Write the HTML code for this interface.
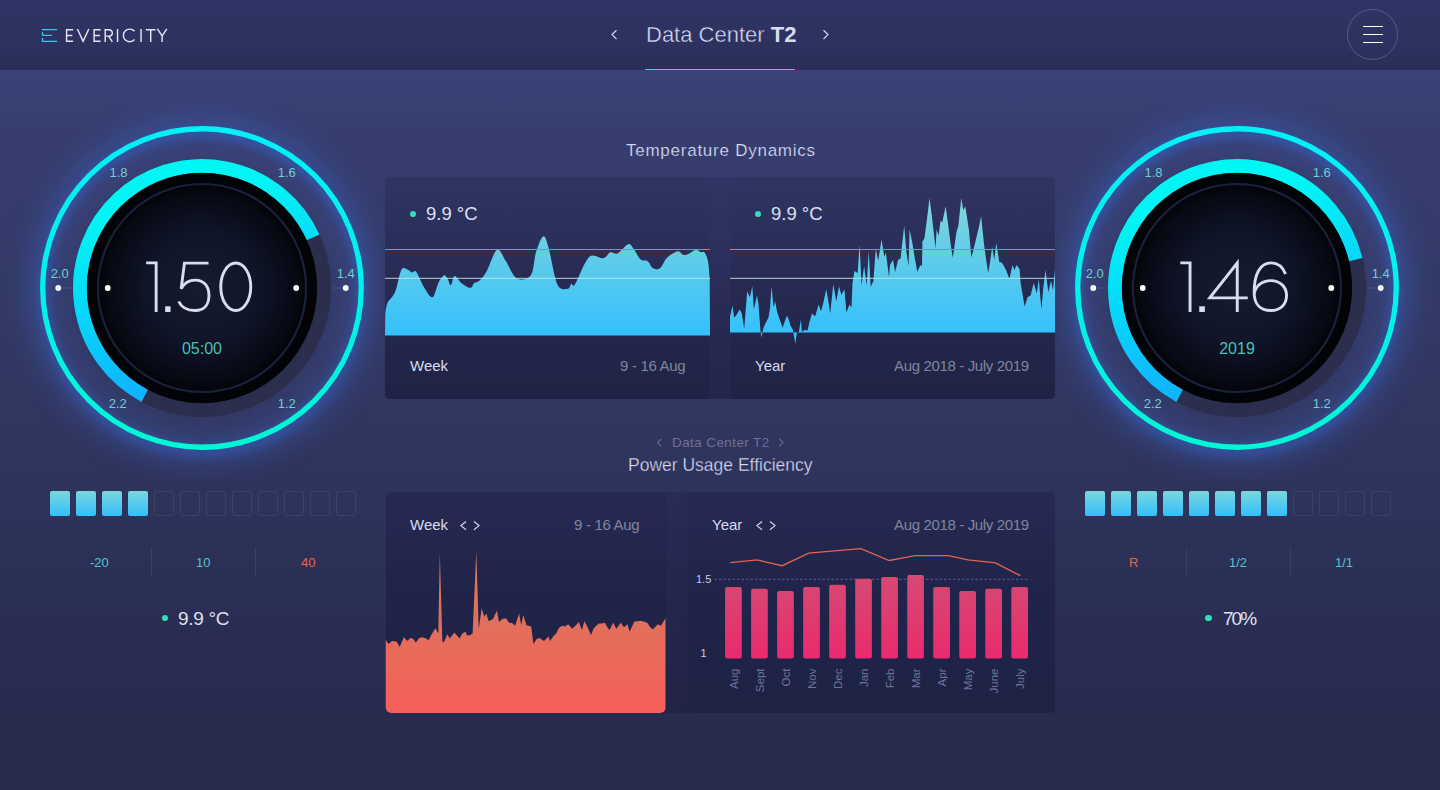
<!DOCTYPE html>
<html><head><meta charset="utf-8"><title>Evericity</title>
<style>
*{margin:0;padding:0;box-sizing:border-box}
html,body{width:1440px;height:790px;overflow:hidden}
body{font-family:"Liberation Sans", sans-serif;position:relative;background:linear-gradient(180deg,#3a4276 70px,#373e6f 130px,#30365f 420px,#292d52 640px,#262a4b 790px);color:#d9dcf0}
.abs{position:absolute}
.hdr{position:absolute;left:0;top:0;width:1440px;height:70px;background:linear-gradient(180deg,#2e3464 0,#2d3260 40px,#2a2e56 70px)}
.logo{position:absolute;left:65px;top:25px;font-size:18px;letter-spacing:1.15px;color:#e4e6f2;line-height:22px}
.g{position:absolute;overflow:visible}
.card{position:absolute;border-radius:5px;overflow:hidden}
.sq{position:absolute;top:491px;width:20px;height:24.5px;border:1px solid #3b4068;border-radius:2px}
.sq.f{border:none;background:linear-gradient(180deg,#7bd6dc,#33c0fe)}
.t{position:absolute;white-space:nowrap;line-height:1}
.dot{position:absolute;width:6.5px;height:6.5px;border-radius:50%;background:linear-gradient(180deg,#27d6da,#3beb98)}
.div{position:absolute;top:548px;width:1px;height:29px;background:#3a3f66}
</style></head>
<body>
<div class="hdr"></div>
<svg class="abs" style="left:41px;top:28px" width="18" height="15" viewBox="41 28 18 15">
  <g stroke="#3dc4ec" stroke-width="1.3" fill="none">
    <path d="M41.8,29.6 H57.2 M42.5,35.4 H52 M41.8,41.4 H57.2 M42.5,32 V35.4 M42.5,38 V41.4"/>
  </g>
</svg>
<svg class="abs" style="left:60px;top:24px" width="112" height="22" viewBox="60 24 112 22">
  <path fill="none" stroke="#e2e4f0" stroke-width="1.45" stroke-linejoin="miter" d="M73.1,29.65 H66.6 V41.15 H73.1 M66.6,35.4 H72.4 M77.4,29 L83.1,41.3 L88.8,29 M100.6,29.65 H94.1 V41.15 H100.6 M94.1,35.4 H99.9 M105.2,41.9 V29.65 H108.6 C111.2,29.65 112.3,31.2 112.3,32.9 C112.3,34.6 111.2,36.1 108.6,36.1 H105.2 M108.6,36.1 L112.4,41.9 M117.55,28.9 V41.9 M134.5,31.3 C133.4,29.9 131.7,29.1 129.6,29.1 C125.9,29.1 123.4,31.9 123.4,35.4 C123.4,38.9 125.9,41.7 129.6,41.7 C131.7,41.7 133.4,40.9 134.5,39.5 M141.05,28.9 V41.9 M145.8,29.65 H155.6 M150.7,29.65 V41.9 M157.4,28.9 L162.1,35.9 L166.8,28.9 M162.1,35.9 V41.9"/>
</svg>

<svg class="abs" style="left:606px;top:26px" width="30" height="18" viewBox="606 26 30 18"><path d="M616.5,30.2 L612,34.6 L616.5,39" fill="none" stroke="#d4d8ee" stroke-width="1.2"/></svg>
<div class="t" style="left:646px;top:24px;font-size:22px;color:#d9dcf0;-webkit-text-stroke:0.4px #2d3260">Data Center <b style="-webkit-text-stroke:0">T2</b></div>
<svg class="abs" style="left:818px;top:26px" width="20" height="18" viewBox="818 26 20 18"><path d="M823.5,30.2 L828,34.6 L823.5,39" fill="none" stroke="#d4d8ee" stroke-width="1.2"/></svg>
<div class="abs" style="left:645px;top:68.6px;width:150px;height:1.4px;background:#4cc6ec"></div>

<div class="abs" style="left:1347px;top:9px;width:51px;height:51px;border-radius:50%;border:1px solid rgba(160,168,215,0.34)"></div>
<div class="abs" style="left:1363px;top:25.6px;width:20px;height:1.8px;background:#fff"></div>
<div class="abs" style="left:1363px;top:33.6px;width:20px;height:1.8px;background:#fff"></div>
<div class="abs" style="left:1363px;top:41.6px;width:20px;height:1.8px;background:#fff"></div>


<svg class="g" style="left:2.25px;top:87.5px" width="400" height="400" viewBox="2.25 87.5 400 400">
  <defs>
    <linearGradient id="ringL" gradientUnits="userSpaceOnUse" x1="202.25" y1="125.5" x2="202.25" y2="449.5">
      <stop offset="0" stop-color="#00f2f6"/><stop offset="0.5" stop-color="#00f2ea"/><stop offset="1" stop-color="#00f8d4"/>
    </linearGradient>
    <linearGradient id="arcL" gradientUnits="userSpaceOnUse" x1="144.25" y1="395.5" x2="102.25" y2="217.5">
      <stop offset="0" stop-color="#0fb3ff"/><stop offset="1" stop-color="#00f6f4"/>
    </linearGradient>
    <radialGradient id="coreL" gradientUnits="userSpaceOnUse" cx="202.25" cy="287.5" r="116">
      <stop offset="0" stop-color="#161c30"/><stop offset="0.45" stop-color="#10152a"/><stop offset="0.8" stop-color="#070a14"/><stop offset="0.9" stop-color="#030408"/><stop offset="1" stop-color="#020306"/>
    </radialGradient>
    <radialGradient id="haloL" gradientUnits="userSpaceOnUse" cx="202.25" cy="287.5" r="200">
      <stop offset="0.55" stop-color="#3d4a86" stop-opacity="0"/><stop offset="0.78" stop-color="#3e4b88" stop-opacity="0.35"/><stop offset="0.82" stop-color="#3e4b88" stop-opacity="0.2"/><stop offset="1" stop-color="#3a4a8a" stop-opacity="0"/>
    </radialGradient>
    <filter id="blL" x="-20%" y="-20%" width="140%" height="140%"><feGaussianBlur stdDeviation="4"/></filter>
    <filter id="bwL" x="-30%" y="-30%" width="160%" height="160%"><feGaussianBlur stdDeviation="12"/></filter>
  </defs>
  <circle cx="202.25" cy="287.5" r="175" fill="url(#haloL)"/>
  <circle cx="202.25" cy="289.5" r="166" fill="none" stroke="#3a5cb4" stroke-width="22" filter="url(#bwL)" opacity="0.4"/>
  <circle cx="202.25" cy="291.5" r="159.25" fill="none" stroke="#3060c8" stroke-width="8" filter="url(#blL)" opacity="0.6"/>
  <circle cx="202.25" cy="287.5" r="159.25" fill="none" stroke="url(#ringL)" stroke-width="5.3"/>
  <g stroke="#626aa4" stroke-opacity="0.13" stroke-width="1"><line x1="202.25" y1="157.50" x2="202.25" y2="144.50"/><line x1="252.00" y1="167.40" x2="256.97" y2="155.39"/><line x1="294.17" y1="195.58" x2="303.37" y2="186.38"/><line x1="322.35" y1="237.75" x2="334.36" y2="232.78"/><line x1="332.25" y1="287.50" x2="345.25" y2="287.50"/><line x1="322.35" y1="337.25" x2="334.36" y2="342.22"/><line x1="294.17" y1="379.42" x2="303.37" y2="388.62"/><line x1="252.00" y1="407.60" x2="256.97" y2="419.61"/><line x1="202.25" y1="417.50" x2="202.25" y2="430.50"/><line x1="152.50" y1="407.60" x2="147.53" y2="419.61"/><line x1="110.33" y1="379.42" x2="101.13" y2="388.62"/><line x1="82.15" y1="337.25" x2="70.14" y2="342.22"/><line x1="72.25" y1="287.50" x2="59.25" y2="287.50"/><line x1="82.15" y1="237.75" x2="70.14" y2="232.78"/><line x1="110.33" y1="195.58" x2="101.13" y2="186.38"/><line x1="152.50" y1="167.40" x2="147.53" y2="155.39"/></g>
  <line x1="72.25" y1="287.5" x2="61.25" y2="287.5" stroke="#5a619a" stroke-opacity="0.5"/>
  <line x1="332.25" y1="287.5" x2="343.25" y2="287.5" stroke="#5a619a" stroke-opacity="0.5"/>
  <circle cx="202.25" cy="287.5" r="122" fill="none" stroke="#2b2e4c" stroke-width="14"/>
  <path d="M144.97,395.22 A122,122 0 1 1 313.27,236.91" fill="none" stroke="url(#arcL)" stroke-width="14"/>
  <circle cx="202.25" cy="287.5" r="115.2" fill="url(#coreL)"/>
  <circle cx="202.25" cy="287.5" r="104" fill="none" stroke="#19223d" stroke-width="2.2"/>
  <g fill="#fff">
    <circle cx="58.5" cy="287.5" r="2.9"/><circle cx="346.0" cy="287.5" r="2.9"/>
    <circle cx="108.0" cy="287.5" r="2.9"/><circle cx="296.5" cy="287.5" r="2.9"/>
  </g>
  <g fill="#6fcfd6" font-family='"Liberation Sans", sans-serif' font-size="13" text-anchor="middle"><text x="118.8" y="176.4">1.8</text><text x="287.0" y="176.4">1.6</text><text x="60.0" y="277.9">2.0</text><text x="346.0" y="277.9">1.4</text><text x="118.0" y="407.9">2.2</text><text x="287.0" y="407.9">1.2</text></g>
  <g fill="none" stroke="#dadcf0" stroke-width="2.9"><path d="M146.4,262.4 H156.4 V311.5" stroke-linejoin="miter"/>
<rect x="165.4" y="305.8" width="5.4" height="5.7" fill="#dadcf0" stroke="none"/>
<path d="M208.8,262.6 H184.7 L181.4,288.2 C185,281.5 190,279.6 195.5,279.6 C204.5,279.6 209.2,286 209.2,295 C209.2,304.5 204,310 195.5,310 C187.5,310 181.5,306.5 179,301"/>
<ellipse cx="236" cy="286.25" rx="15" ry="23.8"/></g>
  <text x="202.25" y="353.5" fill="#4cbfb8" font-family='"Liberation Sans", sans-serif' font-size="16" text-anchor="middle">05:00</text>
</svg>

<svg class="g" style="left:1037.25px;top:87.5px" width="400" height="400" viewBox="1037.25 87.5 400 400">
  <defs>
    <linearGradient id="ringR" gradientUnits="userSpaceOnUse" x1="1237.25" y1="125.5" x2="1237.25" y2="449.5">
      <stop offset="0" stop-color="#00f2f6"/><stop offset="0.5" stop-color="#00f2ea"/><stop offset="1" stop-color="#00f8d4"/>
    </linearGradient>
    <linearGradient id="arcR" gradientUnits="userSpaceOnUse" x1="1179.25" y1="395.5" x2="1137.25" y2="217.5">
      <stop offset="0" stop-color="#0fb3ff"/><stop offset="1" stop-color="#00f6f4"/>
    </linearGradient>
    <radialGradient id="coreR" gradientUnits="userSpaceOnUse" cx="1237.25" cy="287.5" r="116">
      <stop offset="0" stop-color="#161c30"/><stop offset="0.45" stop-color="#10152a"/><stop offset="0.8" stop-color="#070a14"/><stop offset="0.9" stop-color="#030408"/><stop offset="1" stop-color="#020306"/>
    </radialGradient>
    <radialGradient id="haloR" gradientUnits="userSpaceOnUse" cx="1237.25" cy="287.5" r="200">
      <stop offset="0.55" stop-color="#3d4a86" stop-opacity="0"/><stop offset="0.78" stop-color="#3e4b88" stop-opacity="0.35"/><stop offset="0.82" stop-color="#3e4b88" stop-opacity="0.2"/><stop offset="1" stop-color="#3a4a8a" stop-opacity="0"/>
    </radialGradient>
    <filter id="blR" x="-20%" y="-20%" width="140%" height="140%"><feGaussianBlur stdDeviation="4"/></filter>
    <filter id="bwR" x="-30%" y="-30%" width="160%" height="160%"><feGaussianBlur stdDeviation="12"/></filter>
  </defs>
  <circle cx="1237.25" cy="287.5" r="175" fill="url(#haloR)"/>
  <circle cx="1237.25" cy="289.5" r="166" fill="none" stroke="#3a5cb4" stroke-width="22" filter="url(#bwR)" opacity="0.4"/>
  <circle cx="1237.25" cy="291.5" r="159.25" fill="none" stroke="#3060c8" stroke-width="8" filter="url(#blR)" opacity="0.6"/>
  <circle cx="1237.25" cy="287.5" r="159.25" fill="none" stroke="url(#ringR)" stroke-width="5.3"/>
  <g stroke="#626aa4" stroke-opacity="0.13" stroke-width="1"><line x1="1237.25" y1="157.50" x2="1237.25" y2="144.50"/><line x1="1287.00" y1="167.40" x2="1291.97" y2="155.39"/><line x1="1329.17" y1="195.58" x2="1338.37" y2="186.38"/><line x1="1357.35" y1="237.75" x2="1369.36" y2="232.78"/><line x1="1367.25" y1="287.50" x2="1380.25" y2="287.50"/><line x1="1357.35" y1="337.25" x2="1369.36" y2="342.22"/><line x1="1329.17" y1="379.42" x2="1338.37" y2="388.62"/><line x1="1287.00" y1="407.60" x2="1291.97" y2="419.61"/><line x1="1237.25" y1="417.50" x2="1237.25" y2="430.50"/><line x1="1187.50" y1="407.60" x2="1182.53" y2="419.61"/><line x1="1145.33" y1="379.42" x2="1136.13" y2="388.62"/><line x1="1117.15" y1="337.25" x2="1105.14" y2="342.22"/><line x1="1107.25" y1="287.50" x2="1094.25" y2="287.50"/><line x1="1117.15" y1="237.75" x2="1105.14" y2="232.78"/><line x1="1145.33" y1="195.58" x2="1136.13" y2="186.38"/><line x1="1187.50" y1="167.40" x2="1182.53" y2="155.39"/></g>
  <line x1="1107.25" y1="287.5" x2="1096.25" y2="287.5" stroke="#5a619a" stroke-opacity="0.5"/>
  <line x1="1367.25" y1="287.5" x2="1378.25" y2="287.5" stroke="#5a619a" stroke-opacity="0.5"/>
  <circle cx="1237.25" cy="287.5" r="122" fill="none" stroke="#2b2e4c" stroke-width="14"/>
  <path d="M1179.97,395.22 A122,122 0 1 1 1355.93,259.23" fill="none" stroke="url(#arcR)" stroke-width="14"/>
  <circle cx="1237.25" cy="287.5" r="115.2" fill="url(#coreR)"/>
  <circle cx="1237.25" cy="287.5" r="104" fill="none" stroke="#19223d" stroke-width="2.2"/>
  <g fill="#fff">
    <circle cx="1093.5" cy="287.5" r="2.9"/><circle cx="1381.0" cy="287.5" r="2.9"/>
    <circle cx="1143.0" cy="287.5" r="2.9"/><circle cx="1331.5" cy="287.5" r="2.9"/>
  </g>
  <g fill="#6fcfd6" font-family='"Liberation Sans", sans-serif' font-size="13" text-anchor="middle"><text x="1153.8" y="176.4">1.8</text><text x="1322.0" y="176.4">1.6</text><text x="1095.0" y="277.9">2.0</text><text x="1381.0" y="277.9">1.4</text><text x="1153.0" y="407.9">2.2</text><text x="1322.0" y="407.9">1.2</text></g>
  <g fill="none" stroke="#dadcf0" stroke-width="2.9"><path d="M1180.6,262.4 H1190.3 V311.5" stroke-linejoin="miter"/>
<rect x="1199.5" y="305.8" width="5.6" height="5.7" fill="#dadcf0" stroke="none"/>
<path d="M1248,297.4 H1210 L1237.5,262.5 V311.5" stroke-linejoin="miter"/>
<path d="M1285.8,273.5 C1283,266.5 1278,262.4 1271.5,262.4 C1260,262.4 1254.4,274 1254.4,292 C1254.4,304 1261,310 1271,310 C1281,310 1286.8,303.5 1286.8,295 C1286.8,286.5 1280.5,280.1 1271.2,280.1 C1262,280.1 1255.5,286 1254.6,293"/></g>
  <text x="1237.25" y="353.5" fill="#4cbfb8" font-family='"Liberation Sans", sans-serif' font-size="16" text-anchor="middle">2019</text>
</svg>

<div class="t" style="left:626px;top:142px;font-size:17px;letter-spacing:0.75px;color:#d5d9f0;-webkit-text-stroke:0.2px #3a4172">Temperature Dynamics</div>

<div class="abs" style="left:385px;top:177px;width:670px;height:221.5px;border-radius:5px;background:linear-gradient(180deg,#303565 0,#2b2f5b 90px,#25294f 160px,#23274b 221px)"></div>
<!-- card 1 -->
<div class="card" style="left:385px;top:177px;width:325px;height:222px;background:linear-gradient(180deg,#2f3463 0,#2a2e59 70px,#23274c 150px,#1f2345 222px)"></div>
<div class="card" style="left:730px;top:177px;width:325px;height:222px;background:linear-gradient(180deg,#2f3463 0,#2a2e59 70px,#23274c 150px,#1f2345 222px)"></div>
<svg class="abs" style="left:0;top:0" width="1440" height="790" viewBox="0 0 1440 790">
  <defs>
    <linearGradient id="tf" x1="0" y1="0" x2="0" y2="1"><stop offset="0" stop-color="#80d5da"/><stop offset="1" stop-color="#2ebfff"/></linearGradient>
    <linearGradient id="tf2" gradientUnits="userSpaceOnUse" x1="0" y1="200" x2="0" y2="345"><stop offset="0" stop-color="#80d5da"/><stop offset="1" stop-color="#2ebfff"/></linearGradient>
    <linearGradient id="of" gradientUnits="userSpaceOnUse" x1="0" y1="550" x2="0" y2="713"><stop offset="0" stop-color="#cf7d5c"/><stop offset="1" stop-color="#f75f5a"/></linearGradient>
    <linearGradient id="bf" gradientUnits="userSpaceOnUse" x1="0" y1="575" x2="0" y2="659"><stop offset="0" stop-color="#d44b74"/><stop offset="1" stop-color="#ea2a6d"/></linearGradient>
    <clipPath id="c1"><rect x="385" y="177" width="325" height="222"/></clipPath>
    <clipPath id="c2"><rect x="730" y="177" width="325" height="222"/></clipPath>
    <clipPath id="c3"><rect x="385.5" y="491.5" width="280.5" height="221.5" rx="6"/></clipPath>
  </defs>
  <path d="M385.0,335.6 L385.3,314.4 C385.6,312.6 385.9,306.7 387.1,303.7 C388.3,300.7 390.9,299.0 392.4,296.6 C393.9,294.2 394.5,293.9 396.0,289.5 C397.5,285.1 399.5,273.4 401.3,270.0 C403.1,266.6 404.8,268.6 406.6,269.0 C408.4,269.4 410.4,272.1 411.9,272.5 C413.4,272.9 414.3,270.3 415.5,271.1 C416.7,271.9 417.5,274.3 419.0,277.1 C420.5,279.9 422.1,284.4 424.3,287.8 C426.6,291.2 430.1,298.2 432.5,297.3 C434.9,296.4 436.6,286.0 438.5,282.4 C440.4,278.8 442.3,276.1 443.8,275.4 C445.3,274.7 446.2,276.5 447.4,278.2 C448.6,279.9 449.7,285.6 450.9,285.3 C452.1,285.0 452.7,276.5 454.5,276.1 C456.3,275.8 458.9,281.2 461.5,283.2 C464.1,285.1 468.3,287.8 470.4,287.8 C472.5,287.8 472.5,284.4 474.0,283.2 C475.5,282.0 477.2,282.6 479.3,280.7 C481.4,278.8 483.4,276.9 486.4,271.8 C489.3,266.7 493.8,251.6 497.0,249.8 C500.2,248.0 502.6,256.5 505.9,261.2 C509.1,265.9 512.4,275.8 516.5,278.2 C520.6,280.6 527.5,279.7 530.7,275.4 C534.0,271.1 533.9,258.8 536.0,252.3 C538.1,245.8 541.0,237.3 543.1,236.4 C545.2,235.5 546.0,239.0 548.4,247.0 C550.8,255.0 554.0,277.2 557.3,284.2 C560.5,291.2 565.5,288.9 567.9,288.8 C570.2,288.7 570.2,284.3 571.4,283.5 C572.6,282.7 572.0,288.6 575.0,284.2 C578.0,279.8 584.5,261.2 589.2,256.9 C593.9,252.6 599.9,259.1 603.4,258.3 C606.9,257.5 608.0,253.1 610.4,252.3 C612.8,251.5 614.5,254.8 617.5,253.4 C620.5,252.1 625.5,245.0 628.2,244.2 C630.9,243.4 631.4,246.3 633.5,248.8 C635.6,251.3 638.2,257.3 640.6,259.4 C643.0,261.5 645.6,259.7 647.7,261.2 C649.8,262.7 650.9,267.1 653.0,268.3 C655.1,269.5 657.7,270.1 660.1,268.3 C662.5,266.5 664.2,260.4 667.2,257.6 C670.2,254.8 675.1,251.8 677.8,251.3 C680.4,250.8 681.3,254.3 683.1,254.8 C684.9,255.3 686.3,254.9 688.4,254.1 C690.5,253.3 693.4,250.1 695.5,249.8 C697.6,249.5 699.4,251.9 700.9,252.3 C702.4,252.7 703.2,250.8 704.4,252.3 C705.6,253.8 707.1,256.8 708.0,261.2 C708.9,265.6 709.4,276.0 709.7,279.0 L710.0,335.6 Z" fill="url(#tf2)" clip-path="url(#c1)"/>
  <path d="M730.0,332.6 L730.0,316.5 L732.5,305.8 L734.1,317.6 L736.1,315.5 L739.7,309.5 L741.8,313.5 L744.2,328.7 L747.2,291.2 L749.9,297.3 L752.3,286.2 L753.9,309.5 L757.0,295.3 L758.4,303.4 L760.4,329.7 L761.4,337.8 L763.4,327.7 L765.8,322.8 L768.5,317.6 L770.1,307.4 L771.5,286.2 L773.6,307.4 L775.2,301.4 L777.0,311.5 L779.8,319.8 L782.7,327.7 L785.0,320.6 L787.1,315.5 L788.7,319.6 L790.5,325.5 L792.8,329.7 L795.4,343.9 L796.8,332.7 L798.9,331.7 L800.9,319.6 L801.9,331.7 L804.9,329.7 L807.4,330.7 L809.6,321.5 L812.0,313.5 L815.1,316.5 L818.7,304.4 L821.1,311.5 L823.9,300.3 L826.2,289.2 L828.4,301.3 L830.2,313.5 L833.3,284.1 L836.3,301.4 L839.0,286.2 L841.4,295.3 L844.4,289.2 L846.4,312.5 L849.5,304.4 L851.5,307.4 L852.5,283.1 L854.5,271.0 L857.6,273.0 L859.6,244.7 L861.6,285.2 L864.1,265.9 L866.7,285.2 L868.7,250.7 L870.7,286.8 L873.4,281.1 L875.8,248.7 L878.2,260.9 L881.5,239.6 L884.3,256.8 L885.9,252.8 L889.0,277.1 L890.0,264.9 L893.0,259.8 L895.1,272.0 L898.1,259.8 L900.5,258.8 L904.2,225.4 L906.2,250.7 L908.6,265.9 L909.6,229.5 L912.3,242.8 L914.8,258.2 L917.3,272.0 L920.4,264.9 L922.0,265.9 L922.4,241.6 L924.4,238.6 L927.0,218.9 L929.5,198.1 L931.6,213.9 L933.7,231.9 L935.5,248.7 L936.6,229.5 L938.6,235.5 L940.6,220.4 L942.2,222.4 L945.7,206.2 L948.1,224.3 L950.7,244.7 L952.8,257.8 L956.4,232.5 L958.4,225.4 L961.3,198.1 L963.3,210.2 L965.3,206.2 L969.0,230.5 L971.4,257.8 L974.0,247.4 L976.4,237.4 L978.8,227.7 L981.1,216.3 L984.1,244.7 L986.1,259.6 L988.2,273.0 L990.2,260.9 L992.2,246.7 L994.2,259.8 L996.3,243.0 L999.3,261.9 L1001.6,262.4 L1003.4,264.9 L1006.4,271.0 L1009.4,279.1 L1012.5,264.9 L1014.5,270.0 L1016.5,264.9 L1019.6,268.9 L1020.6,283.1 L1024.6,306.4 L1027.6,297.3 L1030.7,295.3 L1033.7,283.1 L1036.8,293.2 L1038.8,279.1 L1041.4,309.4 L1043.2,289.0 L1045.5,270.0 L1048.3,292.2 L1051.0,281.1 L1053.0,290.2 L1055.0,269.0 L1055.0,332.6 Z" fill="url(#tf2)" clip-path="url(#c2)"/>
  <rect x="385" y="249" width="325" height="1" fill="#d9785e"/>
  <rect x="385" y="277.8" width="325" height="1" fill="#c6e6d6" opacity="0.9"/>
  <rect x="730" y="249" width="325" height="1" fill="#d9785e"/>
  <rect x="730" y="277.8" width="325" height="1" fill="#c6e6d6" opacity="0.9"/>
</svg>
<div class="dot" style="left:409.8px;top:210.8px"></div>
<div class="t" style="left:426px;top:204.5px;font-size:18.5px;color:#dde0f0">9.9 °C</div>
<div class="t" style="left:410px;top:358px;font-size:15px;color:#d9dcf0">Week</div>
<div class="t" style="left:620px;top:358px;font-size:15px;letter-spacing:-0.3px;color:#80859f">9 - 16 Aug</div>
<div class="dot" style="left:754.6px;top:210.8px"></div>
<div class="t" style="left:771px;top:204.5px;font-size:18.5px;color:#dde0f0">9.9 °C</div>
<div class="t" style="left:755px;top:358px;font-size:15px;color:#d9dcf0">Year</div>
<div class="t" style="left:894px;top:358px;font-size:15px;letter-spacing:-0.35px;color:#80859f">Aug 2018 - July 2019</div>

<!-- lower -->
<div class="abs" style="left:385.5px;top:491.5px;width:669.5px;height:221.5px;border-radius:5px;background:linear-gradient(180deg,#282c56 0,#23274d 100px,#202446 221px)"></div>
<div class="t" style="left:672px;top:436px;font-size:13.5px;letter-spacing:0.4px;color:#6b7196">Data Center T2</div>
<svg class="abs" style="left:650px;top:434px" width="140" height="16" viewBox="650 434 140 16"><path d="M661.3,438.8 L657.5,442.6 L661.3,446.4 M779.2,438.8 L783,442.6 L779.2,446.4" fill="none" stroke="#6b7196" stroke-width="1.1"/></svg>
<div class="t" style="left:628px;top:457px;font-size:17.5px;color:#d9dcf0;-webkit-text-stroke:0.3px #30355f">Power Usage Efficiency</div>

<div class="card" style="left:385.5px;top:491.5px;width:280px;height:221.5px;background:linear-gradient(180deg,#262a52 0,#20244a 100px,#1e2244 221px)"></div>
<div class="card" style="left:686.5px;top:491.5px;width:368.5px;height:221px;background:linear-gradient(180deg,#262a52 0,#20244a 100px,#1e2244 221px)"></div>
<svg class="abs" style="left:0;top:0" width="1440" height="790" viewBox="0 0 1440 790">
  <path d="M385.5,713.0 L385.5,639.4 L388.5,644.0 L392.1,641.0 L396.7,641.6 L399.7,647.0 L403.7,637.3 L407.3,641.0 L410.4,637.9 L413.0,638.7 L415.8,642.5 L419.2,638.0 L422.5,637.3 L425.6,638.2 L428.6,640.3 L431.7,634.3 L435.3,628.2 L438.3,633.4 L439.8,552.3 L442.3,641.0 L443.8,642.5 L447.4,634.3 L449.8,638.5 L454.4,632.4 L456.7,635.2 L459.6,638.5 L462.5,633.3 L466.0,631.8 L466.5,634.9 L469.5,635.6 L472.6,633.4 L476.3,550.8 L478.7,628.8 L481.7,608.2 L484.2,616.7 L486.3,613.6 L488.7,621.2 L493.0,619.1 L496.9,610.6 L499.0,622.1 L502.3,618.9 L506.0,618.2 L509.1,622.7 L512.1,623.1 L515.1,625.8 L519.1,613.6 L521.2,625.2 L523.3,615.1 L526.4,625.2 L531.2,626.4 L533.4,644.0 L536.7,639.0 L539.4,637.9 L544.0,641.0 L548.5,636.4 L550.1,641.0 L553.3,636.3 L556.1,633.4 L558.9,627.9 L562.2,625.8 L565.1,626.4 L568.3,624.2 L572.2,628.8 L575.4,625.8 L578.9,622.1 L581.9,630.3 L584.4,621.2 L587.8,627.5 L591.0,634.9 L593.6,628.4 L596.2,625.8 L598.8,623.5 L602.0,623.6 L604.7,622.7 L609.3,630.3 L613.2,622.7 L616.3,628.8 L620.8,622.7 L623.9,627.3 L627.5,624.2 L629.6,631.8 L634.5,621.2 L637.1,621.6 L639.9,620.8 L642.7,621.2 L647.2,622.7 L650.1,626.9 L652.7,629.4 L657.9,624.2 L660.9,625.8 L665.5,618.2 L665.5,713.0 Z" fill="url(#of)" clip-path="url(#c3)"/>
  <line x1="714.5" y1="579.3" x2="1027.5" y2="579.3" stroke="#5c6290" stroke-width="1" stroke-dasharray="2.5,2"/>
  <rect x="725.10" y="587" width="16.7" height="71.6" rx="2" fill="url(#bf)"/><rect x="751.12" y="588.7" width="16.7" height="69.9" rx="2" fill="url(#bf)"/><rect x="777.14" y="590.9" width="16.7" height="67.7" rx="2" fill="url(#bf)"/><rect x="803.16" y="587" width="16.7" height="71.6" rx="2" fill="url(#bf)"/><rect x="829.18" y="584.8" width="16.7" height="73.8" rx="2" fill="url(#bf)"/><rect x="855.20" y="578.7" width="16.7" height="79.9" rx="2" fill="url(#bf)"/><rect x="881.22" y="576.9" width="16.7" height="81.7" rx="2" fill="url(#bf)"/><rect x="907.24" y="575.1" width="16.7" height="83.5" rx="2" fill="url(#bf)"/><rect x="933.26" y="587" width="16.7" height="71.6" rx="2" fill="url(#bf)"/><rect x="959.28" y="590.9" width="16.7" height="67.7" rx="2" fill="url(#bf)"/><rect x="985.30" y="588.7" width="16.7" height="69.9" rx="2" fill="url(#bf)"/><rect x="1011.32" y="587" width="16.7" height="71.6" rx="2" fill="url(#bf)"/>
  <polyline points="730.3,562.6 757,559.9 782.2,565.7 808.7,553.2 834.5,550.8 860.9,548.7 889.2,560.5 915,555.6 948.4,555.6 968.1,559.9 995.5,562.9 1020.4,575.7" fill="none" stroke="#e0644e" stroke-width="1.3"/>
  <g fill="#c7cbe0" font-family='"Liberation Sans", sans-serif' font-size="11">
    <text x="696" y="583">1.5</text><text x="700.5" y="657">1</text>
  </g>
  <g fill="#6d7399" font-family='"Liberation Sans", sans-serif' font-size="11.5"><text transform="translate(737.5,668.5) rotate(-90)" text-anchor="end">Aug</text><text transform="translate(763.5,668.5) rotate(-90)" text-anchor="end">Sept</text><text transform="translate(789.5,668.5) rotate(-90)" text-anchor="end">Oct</text><text transform="translate(815.5,668.5) rotate(-90)" text-anchor="end">Nov</text><text transform="translate(841.5,668.5) rotate(-90)" text-anchor="end">Dec</text><text transform="translate(867.6,668.5) rotate(-90)" text-anchor="end">Jan</text><text transform="translate(893.6,668.5) rotate(-90)" text-anchor="end">Feb</text><text transform="translate(919.6,668.5) rotate(-90)" text-anchor="end">Mar</text><text transform="translate(945.6,668.5) rotate(-90)" text-anchor="end">Apr</text><text transform="translate(971.6,668.5) rotate(-90)" text-anchor="end">May</text><text transform="translate(997.6,668.5) rotate(-90)" text-anchor="end">June</text><text transform="translate(1023.7,668.5) rotate(-90)" text-anchor="end">July</text></g>
</svg>
<div class="t" style="left:410px;top:517px;font-size:15px;color:#d9dcf0">Week</div>
<div class="t" style="left:574px;top:517px;font-size:15px;letter-spacing:-0.3px;color:#80859f">9 - 16 Aug</div>
<div class="t" style="left:712px;top:517px;font-size:15px;color:#d9dcf0">Year</div>
<div class="t" style="left:894px;top:517px;font-size:15px;letter-spacing:-0.35px;color:#80859f">Aug 2018 - July 2019</div>
<svg class="abs" style="left:455px;top:518px" width="330" height="16" viewBox="455 518 330 16"><path d="M466,521.5 L461,525.6 L466,529.7 M474,521.5 L479,525.6 L474,529.7 M762,521.5 L757,525.6 L762,529.7 M770,521.5 L775,525.6 L770,529.7" fill="none" stroke="#d4d8ee" stroke-width="1.2"/></svg>

<!-- side panels -->
<div class="sq f" style="left:50px"></div><div class="sq f" style="left:76px"></div><div class="sq f" style="left:102px"></div><div class="sq f" style="left:128px"></div><div class="sq" style="left:154px"></div><div class="sq" style="left:180px"></div><div class="sq" style="left:206px"></div><div class="sq" style="left:232px"></div><div class="sq" style="left:258px"></div><div class="sq" style="left:284px"></div><div class="sq" style="left:310px"></div><div class="sq" style="left:336px"></div>
<div class="sq f" style="left:1085px"></div><div class="sq f" style="left:1111px"></div><div class="sq f" style="left:1137px"></div><div class="sq f" style="left:1163px"></div><div class="sq f" style="left:1189px"></div><div class="sq f" style="left:1215px"></div><div class="sq f" style="left:1241px"></div><div class="sq f" style="left:1267px"></div><div class="sq" style="left:1293px"></div><div class="sq" style="left:1319px"></div><div class="sq" style="left:1345px"></div><div class="sq" style="left:1371px"></div>
<div class="t" style="left:90px;top:556px;font-size:13px;color:#4fc7c9">-20</div>
<div class="div" style="left:150.5px"></div>
<div class="t" style="left:196px;top:556px;font-size:13px;color:#4fc7c9">10</div>
<div class="div" style="left:254.5px"></div>
<div class="t" style="left:301px;top:556px;font-size:13px;color:#ec6148">40</div>
<div class="dot" style="left:161.8px;top:614.8px"></div>
<div class="t" style="left:178px;top:609px;font-size:19px;letter-spacing:-0.3px;color:#dde0f0">9.9 °C</div>

<div class="t" style="left:1129px;top:556px;font-size:13px;color:#ec6148">R</div>
<div class="div" style="left:1185.5px"></div>
<div class="t" style="left:1229px;top:556px;font-size:13px;color:#4fc7c9">1/2</div>
<div class="div" style="left:1289.5px"></div>
<div class="t" style="left:1335px;top:556px;font-size:13px;color:#4fc7c9">1/1</div>
<div class="dot" style="left:1205px;top:614.8px"></div>
<div class="t" style="left:1223px;top:609px;font-size:19px;letter-spacing:-2px;color:#dde0f0">70%</div>
</body></html>
